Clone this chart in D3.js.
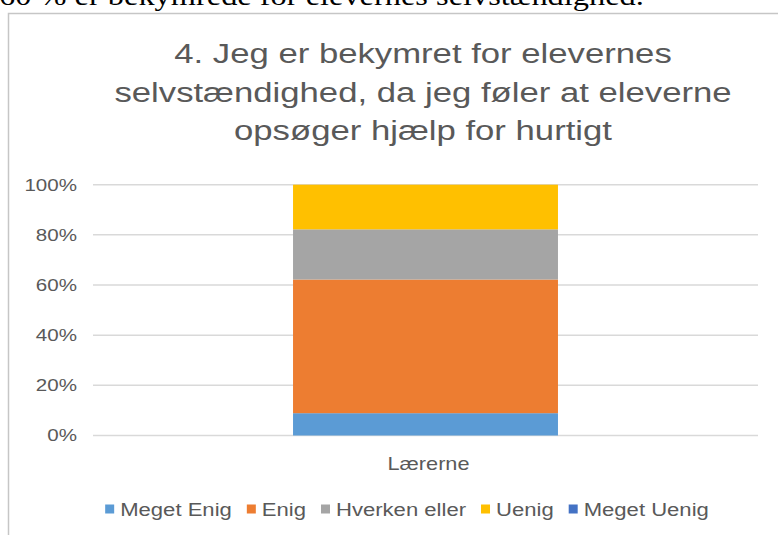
<!DOCTYPE html>
<html>
<head>
<meta charset="utf-8">
<script src="https://cdn.jsdelivr.net/npm/d3@7"></script>
<style>
  html, body { margin: 0; padding: 0; background: #fff; }
  svg { display: block; }
</style>
</head>
<body>
<svg id="chart"></svg>
<script>
// data
const categories = ['Lærerne']
const series = ['Meget Enig', 'Enig', 'Hverken eller', 'Uenig', 'Meget Uenig']
const values = [8.9, 53.3, 20.0, 17.8, 0]   // % for Lærerne
const yTicks = [0, 20, 40, 60, 80, 100]
const titleLines = [
  '4. Jeg er bekymret for elevernes',
  'selvstændighed, da jeg føler at eleverne',
  'opsøger hjælp for hurtigt'
]
const caption = '60 % er bekymrede for elevernes selvstændighed.'

const COLORS = ['#5B9BD5', '#ED7D31', '#A5A5A5', '#FFC000', '#4472C4']
const FONT = "'Liberation Sans', Arial, Helvetica, sans-serif"
const TEXT = '#595959'
const SX = 1.24   // the picture is stretched sideways

const width = 778, height = 535
const svg = d3.select('#chart').attr('width', width).attr('height', height)

// stretched text helper
function label(parent, x, y, str, size, anchor) {
  return parent.append('text')
    .attr('transform', `translate(${x},${y}) scale(${SX},1)`)
    .attr('text-anchor', anchor || 'start')
    .attr('font-family', FONT)
    .attr('font-size', size + 'px')
    .attr('fill', TEXT)
    .text(str)
}

// ─── cut-off caption above the chart ───
svg.append('text')
  .attr('transform', `translate(-1,5) scale(1.2,1)`)
  .attr('font-family', "'Liberation Serif', 'Times New Roman', serif")
  .attr('font-size', '27px')
  .attr('fill', '#000')
  .text(caption)

// ─── chart frame ───
svg.append('rect')
  .attr('x', 8.5).attr('y', 13.5)
  .attr('width', 900).attr('height', 700)
  .attr('fill', '#fff')
  .attr('stroke', '#C6C6C6').attr('stroke-width', 1.5)

// ─── title ───
const titleY = [63, 102, 140]
titleLines.forEach((t, i) => label(svg, 423, titleY[i], t, 28, 'middle'))

// ─── scales ───
const x = d3.scaleBand().domain(categories).range([93, 758]).paddingInner(0).paddingOuter(0.755)
const y = d3.scaleLinear().domain([0, 100]).range([435.5, 184.7])

// grid lines
const grid = svg.append('g')
grid.selectAll('line').data(yTicks).join('line')
  .attr('x1', 93).attr('x2', 758)
  .attr('y1', d => y(d)).attr('y2', d => y(d))
  .attr('stroke', '#D9D9D9').attr('stroke-width', 1.5)

// y tick labels
yTicks.forEach(d => label(svg, 77, y(d) + 5.8, d + '%', 16.6, 'end'))

// ─── stacked bar ───
const stackData = categories.map(c => {
  const row = { cat: c }
  series.forEach((s, i) => { row[s] = values[i] })
  return row
})
const stacked = d3.stack().keys(series)(stackData)

svg.append('g').selectAll('g').data(stacked).join('g')
  .attr('fill', (d, i) => COLORS[i])
  .selectAll('rect').data(d => d).join('rect')
  .attr('x', d => x(d.data.cat))
  .attr('width', x.bandwidth())
  .attr('y', d => y(d[1]))
  .attr('height', d => y(d[0]) - y(d[1]))

// x category label
categories.forEach(c => label(svg, x(c) + x.bandwidth() / 2 + 3, 469.5, c, 17.5, 'middle'))

// ─── legend ───
const legend = svg.append('g')
const items = series.map((s, i) => {
  const t = label(legend, 0, 0, s, 17.8)
  const w = t.node().getComputedTextLength() * SX
  t.remove()
  return { s, i, w }
})
const box = 9, gapBox = 6, gapItem = 15
const total = d3.sum(items, d => box + gapBox + d.w) + gapItem * (items.length - 1)
let cx = 407 - total / 2
items.forEach(d => {
  legend.append('rect')
    .attr('x', cx).attr('y', 504.5)
    .attr('width', box).attr('height', box)
    .attr('fill', COLORS[d.i])
  label(legend, cx + box + gapBox, 515.5, d.s, 17.8)
  cx += box + gapBox + d.w + gapItem
})
</script>
</body>
</html>
